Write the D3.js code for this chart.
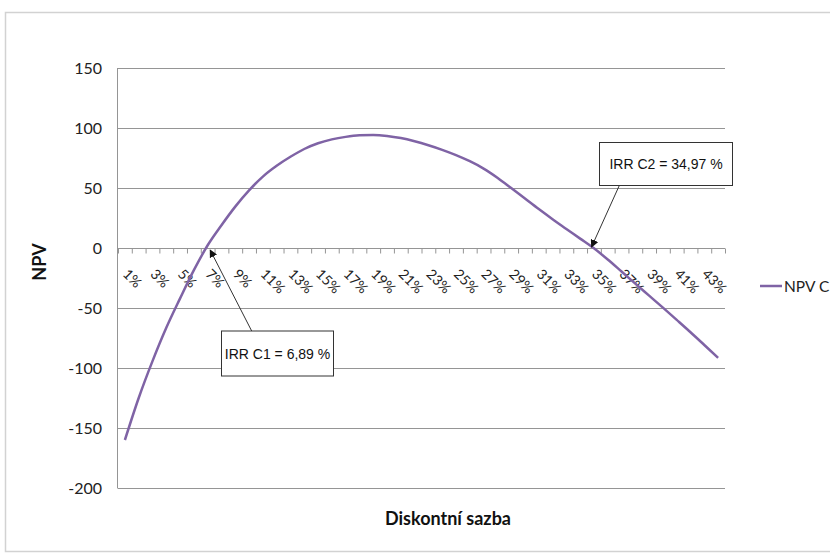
<!DOCTYPE html>
<html>
<head>
<meta charset="utf-8">
<script src="https://cdn.jsdelivr.net/npm/d3@7"></script>
<style>
  body { margin: 0; background: #fff; }
  svg { display: block; }
</style>
</head>
<body>
<svg id="chart" width="830" height="556"></svg>
<script>
// Discount rates (%) on the category axis
const rates = [1, 2, 3, 4, 5, 6, 7, 8, 9, 10, 11, 12, 13, 14, 15, 16, 17, 18, 19, 20, 21, 22,
               23, 24, 25, 26, 27, 28, 29, 30, 31, 32, 33, 34, 35, 36, 37, 38, 39, 40, 41, 42, 43, 44];

// NPV of project C at each discount rate
const npvC = [-160, -125, -94.3, -66.5, -42, -18.5, 2.3, 19, 34.5, 48, 59.5, 68.5, 76, 82.5,
              87.3, 90.5, 92.6, 93.9, 94.2, 93.4, 91.6, 88.9, 85.6, 81.8, 77.4, 72.3, 66.2, 58.6,
              50.0, 41.2, 32.4, 24.0, 15.9, 7.8, -0.3, -9.6, -19.6, -29.7, -39.7, -49.7, -59.9,
              -70.2, -80.8, -91.5];

// Internal rates of return marked on the curve
const irrNames = ["IRR C1", "IRR C2"];
const irrValues = [6.89, 34.97];

const yTicks = [150, 100, 50, 0, -50, -100, -150, -200];
const seriesName = "NPV C";
const xTitle = "Diskontní sazba";
const yTitle = "NPV";

const svg = d3.select("#chart");
const lineColor = "#7f63a5";
const gridColor = "#959595";
const labelFont = "Lato, 'Open Sans', sans-serif";

// outer chart frame
svg.append("rect")
  .attr("x", 5.5).attr("y", 12.5)
  .attr("width", 840).attr("height", 539)
  .attr("fill", "#fff")
  .attr("stroke", "#d2d2d2")
  .attr("stroke-width", 1.5);

const plot = { left: 118, right: 725, top: 68, bottom: 488 };

const x = d3.scaleBand().domain(rates).range([plot.left, plot.right]).padding(0);
const bw = x.bandwidth();
const xc = r => x(r) + bw / 2;
// continuous rate position, so in-between rates (IRRs) land between category centres
const xRate = d3.scaleLinear()
  .domain([rates[0] - 0.5, rates[rates.length - 1] + 0.5])
  .range([plot.left, plot.right]);

const y = d3.scaleLinear().domain([-200, 150]).range([plot.bottom, plot.top]);
const snap = v => Math.round(v) + 0.5;

// horizontal gridlines
svg.append("g")
  .selectAll("line")
  .data(yTicks.filter(t => t !== 0))
  .join("line")
  .attr("x1", plot.left).attr("x2", plot.right)
  .attr("y1", d => snap(y(d))).attr("y2", d => snap(y(d)))
  .attr("stroke", gridColor).attr("stroke-width", 1);

// y axis labels (plain hyphen for negatives)
const yAxis = svg.append("g")
  .attr("transform", `translate(${plot.left},0)`)
  .call(d3.axisLeft(y).tickValues(yTicks).tickSize(0).tickPadding(16)
    .tickFormat(d => String(d)));
yAxis.select(".domain").remove();
yAxis.selectAll("text")
  .attr("font-family", labelFont)
  .attr("font-size", 16)
  .attr("fill", "#222");

// vertical axis line
svg.append("line")
  .attr("x1", snap(plot.left - 1)).attr("x2", snap(plot.left - 1))
  .attr("y1", plot.top).attr("y2", plot.bottom + 0.5)
  .attr("stroke", gridColor);

// category axis at NPV = 0, tick marks between categories
const xBoundaries = rates.map(r => r - 0.5).concat([rates[rates.length - 1] + 0.5]);
const xAxis = svg.append("g")
  .attr("transform", `translate(0,${snap(y(0))})`)
  .call(d3.axisBottom(xRate).tickValues(xBoundaries).tickSize(5).tickFormat(""));
xAxis.select(".domain").attr("stroke", gridColor).attr("d", `M${plot.left},0H${plot.right}`);
xAxis.selectAll(".tick line").attr("stroke", gridColor);

// rotated category labels (every other rate)
svg.append("g")
  .selectAll("text")
  .data(rates.filter((r, i) => i % 2 === 0))
  .join("text")
  .attr("transform", d => `translate(${xc(d) - 3},${y(0) + 27}) rotate(45)`)
  .attr("font-family", labelFont)
  .attr("font-size", 14)
  .attr("fill", "#222")
  .text(d => d + "%");

// NPV curve
const line = d3.line()
  .x((d, i) => xc(rates[i]))
  .y(d => y(d))
  .curve(d3.curveMonotoneX);

svg.append("path")
  .datum(npvC)
  .attr("d", line)
  .attr("fill", "none")
  .attr("stroke", lineColor)
  .attr("stroke-width", 2.5)
  .attr("stroke-linejoin", "round");

// arrowhead for the callouts
svg.append("defs").append("marker")
  .attr("id", "arrow")
  .attr("viewBox", "0 0 10 10")
  .attr("refX", 9).attr("refY", 5)
  .attr("markerWidth", 8).attr("markerHeight", 8)
  .attr("markerUnits", "userSpaceOnUse")
  .attr("orient", "auto")
  .append("path")
  .attr("d", "M0,0L10,5L0,10z")
  .attr("fill", "#111");

// callout boxes: box geometry, anchor of the leader line on the box, tip offset
const callouts = [
  { box: [221.5, 331, 112, 45], from: [251.7, 331], tipDx: 4, tipDy: 2 },
  { box: [599.5, 142.5, 133, 43], from: [619.3, 185.5], tipDx: -2, tipDy: -1 }
];

const fmtRate = v => v.toFixed(2).replace(".", ",");

callouts.forEach((c, i) => {
  const g = svg.append("g");
  const tipX = xRate(irrValues[i]) + c.tipDx;
  const tipY = y(0) + c.tipDy;
  g.append("line")
    .attr("x1", c.from[0]).attr("y1", c.from[1])
    .attr("x2", tipX).attr("y2", tipY)
    .attr("stroke", "#333").attr("stroke-width", 1)
    .attr("marker-end", "url(#arrow)");
  g.append("rect")
    .attr("x", c.box[0]).attr("y", c.box[1])
    .attr("width", c.box[2]).attr("height", c.box[3])
    .attr("fill", "#fff")
    .attr("stroke", "#333").attr("stroke-width", 1);
  g.append("text")
    .attr("x", c.box[0] + c.box[2] / 2)
    .attr("y", c.box[1] + c.box[3] / 2 + 5)
    .attr("text-anchor", "middle")
    .attr("font-family", "'Liberation Sans', Arial, sans-serif")
    .attr("font-size", 14)
    .attr("fill", "#111")
    .text(`${irrNames[i]} = ${fmtRate(irrValues[i])} %`);
});

// axis titles
svg.append("text")
  .attr("transform", "translate(46,262) rotate(-90)")
  .attr("text-anchor", "middle")
  .attr("font-family", labelFont)
  .attr("font-weight", "bold")
  .attr("font-size", 18)
  .attr("fill", "#111")
  .text(yTitle);

svg.append("text")
  .attr("x", 448).attr("y", 524.5)
  .attr("text-anchor", "middle")
  .attr("font-family", labelFont)
  .attr("font-weight", "bold")
  .attr("font-size", 18)
  .attr("fill", "#111")
  .text(xTitle);

// legend
const legend = svg.append("g").attr("transform", "translate(760,286)");
legend.append("line")
  .attr("x1", 0).attr("x2", 22).attr("y1", 0).attr("y2", 0)
  .attr("stroke", lineColor).attr("stroke-width", 2.5);
legend.append("text")
  .attr("x", 24).attr("y", 5.5)
  .attr("font-family", labelFont)
  .attr("font-size", 15.5)
  .attr("fill", "#222")
  .text(seriesName);
</script>
</body>
</html>
